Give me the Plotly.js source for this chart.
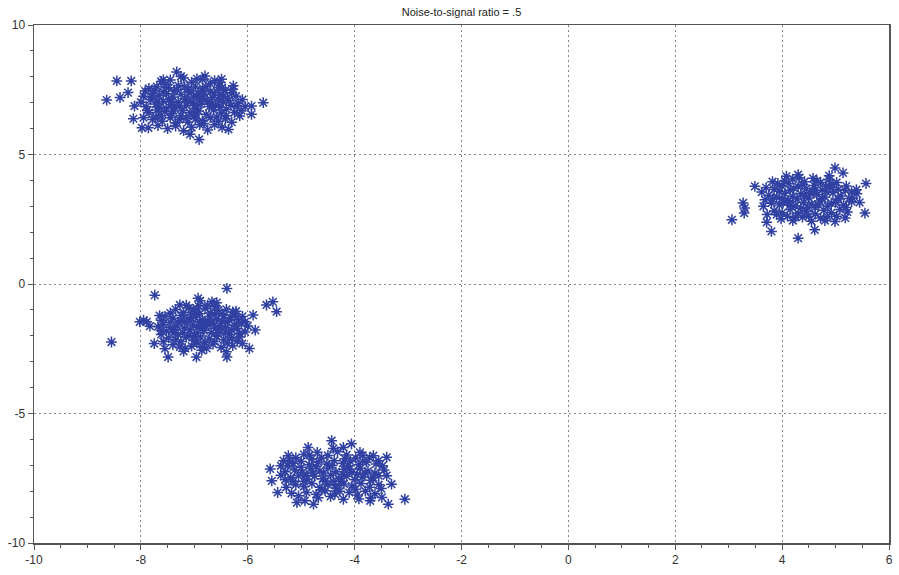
<!DOCTYPE html>
<html>
<head>
<meta charset="utf-8">
<script src="https://cdn.plot.ly/plotly-3.0.1.min.js"></script>
<style>html,body{margin:0;padding:0;background:#fff;}#chart{width:899px;height:575px;}</style>
</head>
<body>
<div id="chart"></div>
<script>
// Cluster 1 (top-left)
var c1x = [-8.64,-8.45,-8.39,-8.18,-8.24,-8.12,-8.14,-7.98,-7.86,-7.33,-7.08,-6.91,-6.36,-6.15,-5.93,-5.71,-5.93,-6.49,-6.80,-6.27,
-7.62,-7.45,-7.20,-7.05,-6.95,-6.62,-7.55,-6.70,
-7.85,-7.70,-7.48,-7.30,-7.12,-6.98,-6.84,-6.55,-6.42,-7.92,-7.38,-6.70,-6.30,-7.78,
-7.95,-7.66,-7.52,-7.40,-7.25,-7.10,-6.96,-6.82,-6.66,-6.52,-6.38,-6.22,-6.10,-7.82,-7.18,-6.90,
-8.00,-7.72,-7.58,-7.44,-7.30,-7.15,-7.02,-6.88,-6.75,-6.60,-6.46,-6.32,-6.18,-6.05,-7.90,-7.36,-6.95,
-7.85,-7.70,-7.55,-7.42,-7.22,-7.08,-6.92,-6.78,-6.64,-6.50,-6.40,-6.25,-6.12,-7.62,-7.00,
-7.78,-7.60,-7.45,-7.28,-7.12,-6.98,-6.85,-6.70,-6.55,-6.42,-6.30,-7.95,-6.62,
-7.68,-7.35,-7.05,-6.90,-6.75,-6.48,-7.20,-7.50,
-7.48,-7.02,-6.72,-7.25,-6.55,-7.65,-7.00,-6.85,
-7.75,-7.58,-7.32,-7.18,-7.05,-6.92,-6.78,-6.62,-6.48,-6.35,-6.20,-6.40,-6.58,-6.82,-7.15,-7.35,-7.52,-7.68,
-7.80,-7.88,-7.72,-7.42,-7.28,-7.12,-6.98,-6.82,-6.68,-6.52,-6.45,-6.28,-7.58,-7.25,-6.85,-6.52,-7.40];
var c1y = [7.10,7.84,7.20,7.84,7.39,6.87,6.38,6.03,6.03,8.19,5.78,5.58,5.97,6.49,6.87,7.00,6.55,7.91,8.03,7.65,
7.82,7.88,7.95,7.79,7.92,7.85,7.70,7.74,
7.55,7.62,7.58,7.66,7.52,7.61,7.55,7.60,7.48,7.45,7.45,7.42,7.38,7.35,
7.25,7.28,7.35,7.22,7.32,7.38,7.25,7.34,7.20,7.30,7.18,7.25,7.12,7.12,7.15,7.10,
7.02,6.95,7.05,6.92,7.02,6.90,7.00,6.94,7.05,6.92,7.02,6.90,6.98,6.85,6.85,6.80,6.78,
6.62,6.72,6.65,6.58,6.70,6.62,6.68,6.55,6.72,6.60,6.75,6.62,6.70,6.50,6.48,
6.35,6.28,6.42,6.35,6.25,6.38,6.30,6.42,6.28,6.38,6.25,6.42,6.15,
6.12,6.10,6.05,6.15,5.95,6.05,5.92,6.00,
7.12,7.22,6.85,6.50,7.12,6.82,6.88,7.45,
7.48,7.42,7.50,7.62,7.45,7.35,7.62,7.38,7.58,7.08,6.85,6.50,6.45,6.20,6.40,6.22,6.78,7.05,
7.22,6.70,6.45,7.05,6.88,7.05,6.55,7.15,6.95,6.82,7.25,7.52,7.88,8.02,7.90,7.78,6.68];

// Cluster 2 (middle-left)
var c2x = [-8.55,-7.74,-7.95,-7.89,-7.83,-8.02,-7.75,-7.49,-6.96,-6.39,-6.39,-5.65,-5.53,-5.46,-5.90,-5.86,-5.97,-6.77,-6.86,-7.27,-7.17,-6.93,-6.89,-6.67,-6.61,-7.27,-6.24,-6.05,
-7.35,-7.10,-6.98,-6.80,-6.55,-6.40,-6.28,-7.20,-6.70,-6.92,
-7.55,-7.40,-7.25,-7.12,-6.98,-6.85,-6.72,-6.58,-6.45,-6.32,-6.18,-6.10,-7.62,-7.05,-6.62,
-7.58,-7.45,-7.32,-7.18,-7.02,-6.90,-6.78,-6.65,-6.52,-6.38,-6.25,-6.12,-6.00,-7.68,-6.95,-6.48,
-7.52,-7.38,-7.22,-7.08,-6.95,-6.82,-6.68,-6.55,-6.42,-6.30,-6.15,-7.62,-7.30,-6.85,
-7.48,-7.35,-7.15,-7.00,-6.88,-6.72,-6.58,-6.45,-6.30,-6.20,-7.58,-6.95,
-7.40,-7.05,-6.65,-6.50,-6.28,-7.55,-6.40,-6.10,
-7.25,-6.60,-7.10,-6.75,-6.35,
-7.45,-7.15,-6.75,-6.48,-6.22,-7.65,-7.30,-7.08,-6.88,-6.70,-6.42,-6.20,-6.05,-7.45,-7.18,
-7.25,-6.80,-6.62,-6.38,-6.15,-7.62,-7.00,-6.55,-6.90,-7.38,-6.35,-7.02,-6.85,-7.20,-6.58];
var c2y = [-2.24,-0.43,-1.40,-1.46,-1.63,-1.46,-2.30,-2.82,-2.82,-0.17,-2.82,-0.81,-0.69,-1.07,-1.20,-1.78,-2.49,-2.49,-2.56,-2.43,-2.49,-0.55,-0.65,-0.69,-0.88,-0.81,-1.20,-1.46,
-0.98,-0.92,-1.05,-0.95,-1.02,-0.98,-1.08,-1.10,-1.12,-0.85,
-1.25,-1.32,-1.22,-1.35,-1.28,-1.38,-1.25,-1.35,-1.22,-1.30,-1.38,-1.25,-1.40,-1.18,-1.18,
-1.55,-1.48,-1.62,-1.50,-1.58,-1.48,-1.62,-1.52,-1.60,-1.48,-1.58,-1.52,-1.62,-1.65,-1.68,-1.45,
-1.82,-1.75,-1.88,-1.78,-1.90,-1.80,-1.88,-1.75,-1.85,-1.78,-1.90,-1.95,-1.95,-1.72,
-2.08,-2.15,-2.05,-2.18,-2.05,-2.12,-2.02,-2.15,-2.08,-2.20,-2.22,-2.28,
-2.35,-2.40,-2.32,-2.45,-2.38,-2.50,-2.62,-2.30,
-1.42,-1.72,-2.00,-1.42,-1.95,
-1.12,-0.82,-0.82,-1.15,-1.05,-1.22,-1.48,-1.42,-1.58,-1.55,-1.68,-1.72,-1.85,-1.68,-1.70,
-2.22,-2.25,-2.22,-2.28,-2.05,-1.80,-2.02,-1.92,-1.15,-1.88,-1.40,-0.98,-2.42,-2.60,-0.72];

// Cluster 3 (bottom)
var c3x = [-5.58,-5.55,-5.44,-5.05,-5.08,-4.93,-4.77,-4.43,-4.21,-4.06,-3.90,-3.65,-3.40,-3.31,-3.71,-3.49,-3.37,-3.06,-4.21,-4.37,-4.87,-5.24,-5.33,
-4.95,-4.70,-4.50,-4.32,-4.15,-3.98,-4.62,
-5.15,-5.00,-4.85,-4.68,-4.52,-4.38,-4.22,-4.08,-3.92,-3.78,-3.60,-3.48,-5.25,
-5.30,-5.12,-4.98,-4.82,-4.65,-4.50,-4.35,-4.20,-4.05,-3.90,-3.75,-3.62,-3.45,-4.72,-4.12,
-5.20,-5.05,-4.90,-4.75,-4.60,-4.45,-4.30,-4.15,-4.00,-3.85,-3.70,-3.55,-5.38,-4.40,-3.95,
-5.10,-4.95,-4.80,-4.65,-4.50,-4.35,-4.20,-4.05,-3.88,-3.72,-3.55,-5.28,
-4.90,-4.72,-4.55,-4.10,-3.95,-3.80,-5.18,-3.62,
-4.58,-4.25,-4.80,-3.85,-4.45,
-5.10,-4.85,-4.40,-4.18,-3.72,-3.55,-5.30,-5.00,-4.90,-4.55,-4.22,-3.80,-3.65,-3.40,-4.95,
-4.62,-4.28,-3.98,-3.70,-5.38,-4.42,-4.10,-3.85,-4.78,-5.15,-4.35,-3.50,-4.68,-3.92,-5.22];
var c3y = [-7.14,-7.60,-8.05,-8.18,-8.44,-8.37,-8.50,-6.05,-6.31,-6.17,-6.50,-6.63,-6.69,-7.73,-8.37,-8.24,-8.50,-8.31,-8.31,-8.11,-6.31,-6.63,-6.82,
-6.58,-6.50,-6.62,-6.48,-6.60,-6.72,-6.72,
-6.92,-6.85,-6.98,-6.88,-6.95,-6.82,-6.92,-6.85,-6.98,-6.88,-6.95,-7.02,-7.02,
-7.25,-7.18,-7.28,-7.12,-7.22,-7.10,-7.25,-7.15,-7.28,-7.12,-7.22,-7.30,-7.18,-7.05,-7.02,
-7.48,-7.40,-7.55,-7.42,-7.52,-7.38,-7.50,-7.42,-7.55,-7.45,-7.58,-7.40,-7.38,-7.62,-7.35,
-7.75,-7.82,-7.70,-7.85,-7.75,-7.88,-7.72,-7.80,-7.70,-7.85,-7.75,-7.85,
-8.05,-8.12,-7.98,-8.05,-8.15,-8.00,-8.08,-8.10,
-7.30,-7.62,-6.75,-6.62,-8.20,
-6.70,-6.60,-6.35,-6.75,-6.70,-6.82,-7.55,-7.08,-7.38,-7.62,-7.35,-7.30,-7.48,-7.40,-7.62,
-7.95,-8.00,-7.92,-8.25,-7.02,-7.00,-7.15,-6.85,-7.30,-7.62,-7.78,-7.90,-8.25,-8.30,-6.85];

// Cluster 4 (right)
var c4x = [3.06,3.27,3.29,3.30,3.49,3.80,3.71,4.30,4.61,4.99,5.14,5.57,5.55,4.99,4.08,4.30,5.39,
4.05,4.20,4.42,4.58,4.72,4.88,3.92,
3.70,3.85,4.00,4.15,4.30,4.45,4.60,4.75,4.90,5.05,5.20,4.38,4.95,
3.75,3.90,4.05,4.20,4.35,4.50,4.65,4.80,4.95,5.10,5.25,5.40,3.62,4.12,4.58,
3.80,3.95,4.10,4.25,4.40,4.55,4.70,4.85,5.00,5.15,5.30,3.65,4.48,
3.85,4.00,4.15,4.30,4.45,4.62,4.78,4.92,5.08,5.22,3.72,
3.98,4.20,4.38,4.55,4.72,4.85,4.10,5.18,
4.28,4.82,4.62,4.00,5.30,
3.82,4.12,4.32,4.65,4.82,5.02,5.18,3.95,4.22,4.52,4.75,5.05,5.32,3.82,4.15,
4.35,4.68,4.92,5.20,3.90,4.25,4.50,4.80,5.02,4.42,4.62,4.02,3.68,5.45,4.88];
var c4y = [2.48,3.13,2.74,2.93,3.77,2.03,2.38,1.77,2.09,4.48,4.29,3.88,2.74,2.41,4.16,4.22,3.64,
3.98,4.05,3.95,4.08,3.92,4.02,3.88,
3.72,3.65,3.78,3.62,3.75,3.68,3.80,3.62,3.72,3.65,3.78,3.85,3.85,
3.42,3.35,3.50,3.38,3.48,3.32,3.45,3.35,3.52,3.40,3.30,3.48,3.55,3.22,3.58,
3.12,3.05,3.18,3.02,3.15,3.08,3.20,3.00,3.15,3.05,3.18,3.00,2.95,
2.82,2.75,2.88,2.72,2.80,2.70,2.85,2.75,2.88,2.78,2.68,
2.52,2.45,2.58,2.42,2.55,2.60,2.62,2.55,
3.28,3.58,2.95,3.30,3.55,
3.95,3.88,4.10,3.98,3.78,3.92,3.62,3.58,3.70,3.52,3.30,3.28,3.32,3.28,3.05,
2.92,3.05,3.12,2.95,2.68,2.58,2.62,2.45,2.62,3.40,3.62,3.15,3.25,3.15,4.18];

var titleText = 'Noise-to-signal ratio = .5';
var xTickVals = [-10, -8, -6, -4, -2, 0, 2, 4, 6];
var xTickText = ['-10', '-8', '-6', '-4', '-2', '0', '2', '4', '6'];
var yTickVals = [-10, -5, 0, 5, 10];
var yTickText = ['-10', '-5', '0', '5', '10'];

var markerStyle = {
  symbol: 'asterisk-open',
  size: 9,
  color: '#3040a2',
  line: {color: '#3040a2', width: 1.5}
};
function mk(x, y) {
  return {x: x, y: y, type: 'scatter', mode: 'markers', marker: markerStyle, showlegend: false, hoverinfo: 'x+y'};
}
var data = [mk(c1x, c1y), mk(c2x, c2y), mk(c3x, c3y), mk(c4x, c4y)];

var fontFam = '"Liberation Sans", Arial, sans-serif';
var axisCommon = {
  showline: true, mirror: true, linecolor: '#555', linewidth: 1.5,
  ticks: 'outside', ticklen: 5, tickcolor: '#555', tickwidth: 1,
  showgrid: true, gridcolor: '#888', griddash: '1.5px,3.5px', gridwidth: 1,
  zeroline: false, tickmode: 'array',
  tickfont: {family: fontFam, size: 12, color: '#333'}
};
var layout = {
  width: 899, height: 575,
  margin: {l: 34, r: 10, t: 25, b: 32},
  paper_bgcolor: '#fff', plot_bgcolor: '#fff',
  title: {text: titleText, font: {family: fontFam, size: 11, color: '#222'}, x: 0.5, xref: 'paper', xanchor: 'center', y: 0.979, yref: 'container', yanchor: 'middle'},
  xaxis: Object.assign({}, axisCommon, {range: [-10, 6], tickvals: xTickVals, ticktext: xTickText,
    minor: {dtick: 0.5, tick0: -10, ticks: 'outside', ticklen: 3, tickcolor: '#555', showgrid: false}}),
  yaxis: Object.assign({}, axisCommon, {range: [-10, 10], tickvals: yTickVals, ticktext: yTickText,
    minor: {dtick: 1, tick0: -10, ticks: 'outside', ticklen: 3, tickcolor: '#555', showgrid: false}})
};
Plotly.newPlot('chart', data, layout, {displayModeBar: false, staticPlot: true});
</script>
</body>
</html>
